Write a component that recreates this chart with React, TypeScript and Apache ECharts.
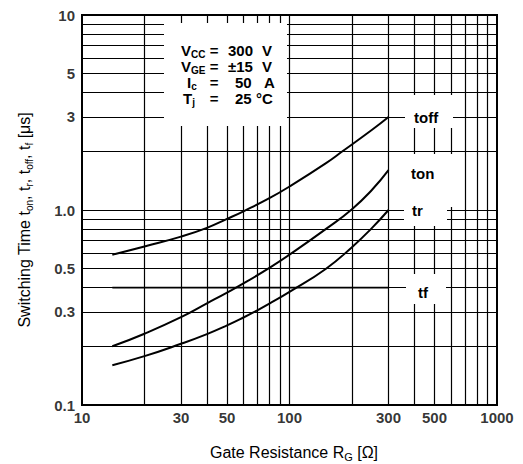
import React, { useEffect, useRef } from "react";
import * as echarts from "echarts";

const xGridValues = [20, 30, 40, 50, 60, 70, 80, 90, 100, 200, 300, 400, 500, 600, 700, 800, 900];
const yGridValues = [0.2, 0.3, 0.4, 0.5, 0.6, 0.7, 0.8, 0.9, 1, 2, 3, 4, 5, 6, 7, 8, 9];
const xTickValues = [10, 30, 50, 100, 300, 500, 1000];
const xTickTexts = ["10", "30", "50", "100", "300", "500", "1000"];
const yTickValues = [0.1, 0.3, 0.5, 1, 3, 5, 10];
const yTickTexts = ["0.1", "0.3", "0.5", "1.0", "3", "5", "10"];

const toffRg = [14, 20, 30, 40, 50, 60, 80, 100, 150, 180, 250, 300];
const toffTime = [0.59, 0.65, 0.73, 0.81, 0.9, 0.985, 1.15, 1.32, 1.74, 2.0, 2.58, 3.0];
const tonRg = [14, 20, 30, 40, 50, 60, 80, 100, 150, 200, 250, 300];
const tonTime = [0.2, 0.232, 0.282, 0.332, 0.377, 0.42, 0.505, 0.59, 0.8, 1.01, 1.27, 1.6];
const trRg = [14, 20, 30, 40, 50, 60, 70, 80, 100, 150, 200, 250, 300];
const trTime = [0.16, 0.178, 0.206, 0.231, 0.256, 0.281, 0.306, 0.331, 0.38, 0.5, 0.645, 0.81, 1.0];
const tfRg = [14, 300];
const tfTime = [0.4, 0.4];

const FONT = "'Liberation Sans', Arial, sans-serif";

export default function App() {
  const ref = useRef<HTMLDivElement>(null);
  useEffect(() => {
    document.body.style.margin = "0";
    const chart = echarts.init(ref.current!, null, { renderer: "svg" });
    const curve = (rg: number[], t: number[], w = 2) => ({
      type: "line",
      data: rg.map((r, i) => [r, t[i]]),
      smooth: 0.5,
      showSymbol: false,
      silent: true,
      lineStyle: { color: "#000", width: w },
      z: 5,
    });
    const numStyle = { fontFamily: FONT, fontSize: 15, fontWeight: "bold", fill: "#000" };
    const sub = { fontFamily: FONT, fontSize: 10, fontWeight: "bold", lineHeight: 10, verticalAlign: "bottom" };
    const rect = (x: number, y: number, w: number, h: number) => ({
      type: "rect", z: 50, shape: { x, y, width: w, height: h }, style: { fill: "#fff" }, silent: true,
    });
    const txt = (x: number, y: number, text: string, align = "left", extra: any = {}) => ({
      type: "text", z: 60, x, y, silent: true,
      style: {
        text, ...numStyle, align, verticalAlign: "middle", lineHeight: 18,
        rich: { s: sub }, ...extra,
      },
    });
    const option: any = {
      animation: false,
      backgroundColor: "#fff",
      grid: { left: 82, top: 15, width: 415, height: 390, show: true, borderColor: "#000", borderWidth: 2, backgroundColor: "transparent" },
      xAxis: {
        type: "log", logBase: 10, min: 10, max: 1000,
        axisLine: { show: false }, axisTick: { show: false }, axisLabel: { show: false }, splitLine: { show: false },
      },
      yAxis: {
        type: "log", logBase: 10, min: 0.1, max: 10,
        axisLine: { show: false }, axisTick: { show: false }, axisLabel: { show: false }, splitLine: { show: false },
      },
      series: [
        {
          ...curve(tfRg, tfTime, 1.6),
          markLine: {
            silent: true,
            symbol: ["none", "none"],
            label: { show: false },
            lineStyle: { color: "#000", width: 1.2, type: "solid" },
            data: [
              ...xGridValues.map((v) => ({ xAxis: v })),
              ...yGridValues.map((v) => ({ yAxis: v })),
            ],
          },
        },
        curve(toffRg, toffTime),
        curve(tonRg, tonTime),
        curve(trRg, trTime),
        {
          type: "scatter", symbolSize: 0, silent: true, clip: false,
          data: xTickValues.map((v) => [v, 0.1]),
          label: {
            show: true, position: "bottom", distance: 5, color: "#000",
            fontFamily: FONT, fontSize: 15, fontWeight: "bold",
            formatter: (p: any) => xTickTexts[p.dataIndex],
          },
        },
        {
          type: "scatter", symbolSize: 0, silent: true, clip: false,
          data: yTickValues.map((v) => [10, v]),
          label: {
            show: true, position: "left", distance: 7, color: "#000",
            fontFamily: FONT, fontSize: 15, fontWeight: "bold",
            formatter: (p: any) => yTickTexts[p.dataIndex],
          },
        },
      ],
      graphic: [
        rect(164, 23, 123, 103),
        rect(405, 95, 48, 33),
        rect(404, 154, 51, 53),
        rect(404, 200, 43, 26),
        rect(406, 274, 40, 30),
        txt(181, 50, "V{s|CC}"),
        txt(181, 66, "V{s|GE}"),
        txt(187, 82, "I{s|c}"),
        txt(183, 98, "T{s|j}"),
        txt(214, 50, "=", "center"),
        txt(214, 66, "=", "center"),
        txt(214, 82, "=", "center"),
        txt(214, 98, "=", "center"),
        txt(228, 50, "300"),
        txt(228, 66, "±15"),
        txt(235, 82, "50"),
        txt(235, 98, "25"),
        txt(262, 50, "V"),
        txt(262, 66, "V"),
        txt(264, 82, "A"),
        txt(256, 98, "°C"),
        txt(414, 117, "toff"),
        txt(411, 173, "ton"),
        txt(412, 210, "tr"),
        txt(418, 292, "tf"),
        {
          type: "text", z: 60, x: 294, y: 452, silent: true,
          style: {
            text: "Gate Resistance R{s|G} [Ω]",
            fontFamily: FONT, fontSize: 16, fill: "#000", align: "center", verticalAlign: "middle", lineHeight: 20,
            rich: { s: { fontFamily: FONT, fontSize: 11, lineHeight: 11, verticalAlign: "bottom" } },
          },
        },
        {
          type: "text", z: 60, x: 24, y: 220, rotation: Math.PI / 2, silent: true,
          style: {
            text: "Switching Time t{s|on}, t{s|r}, t{s|off}, t{s|f} [μs]",
            fontFamily: FONT, fontSize: 16, fill: "#000", align: "center", verticalAlign: "middle", lineHeight: 20,
            rich: { s: { fontFamily: FONT, fontSize: 10, lineHeight: 10, verticalAlign: "bottom" } },
          },
        },
      ],
    };
    chart.setOption(option);
    return () => chart.dispose();
  }, []);
  return <div ref={ref} style={{ width: 523, height: 464 }} />;
}
